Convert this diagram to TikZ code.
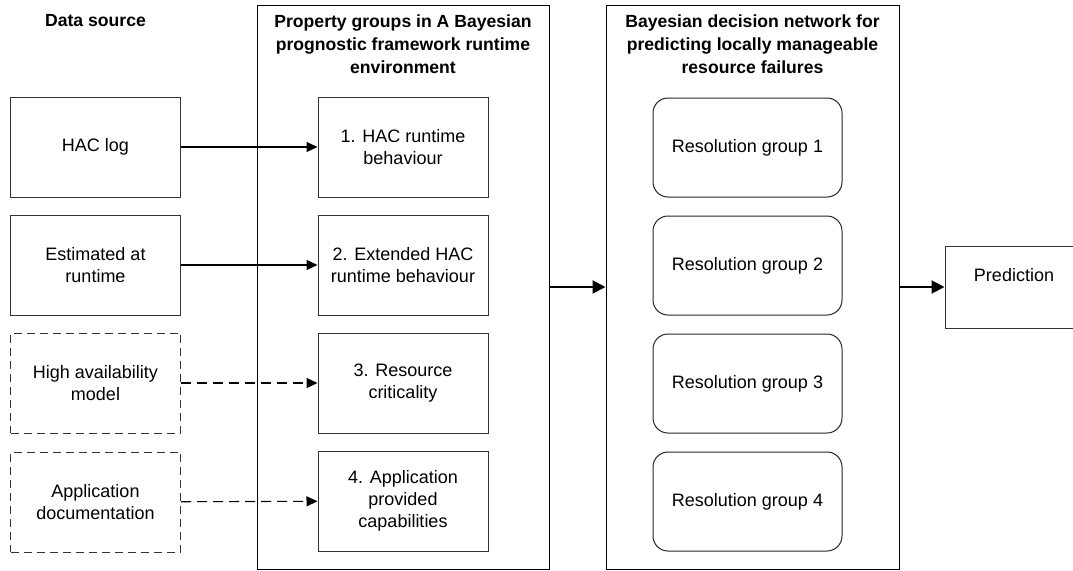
\documentclass[tikz,border=0pt]{standalone}
\usepackage{fontspec}
\setmainfont{Liberation Sans}
\usetikzlibrary{arrows.meta}

\tikzset{
  srcbox/.style={draw=black!80, line width=1pt, minimum width=170pt, minimum height=100pt, align=center, inner sep=2pt},
  guessbox/.style={srcbox, dash pattern=on 8pt off 5pt},
  panel/.style={draw=black, line width=1pt, minimum width=292pt, minimum height=564pt},
  rgroup/.style={draw=black!85, line width=1pt, rounded corners=15pt, minimum width=189pt, minimum height=99pt, align=center},
  heading/.style={font=\fontsize{17.6}{23}\selectfont\bfseries, align=center},
  feed/.style={-{Triangle[length=11pt,width=10pt]}, line width=1.1pt},
  dfeed/.style={feed, dash pattern=on 10pt off 6pt},
  flow/.style={-{Triangle[length=13pt,width=13pt]}, line width=2pt}
}

\begin{document}
\begin{tikzpicture}[x=1pt, y=-1pt, font=\fontsize{18}{22}\selectfont]
  \useasboundingbox (0,0) rectangle (1073,570);

  %Define nodes
  \node[panel]   (props) at (403,287) {};
  \node[panel, minimum width=293pt] (bdn) at (752.5,287) {};

  \node[heading] (src_t)   at (95.5,21)  {Data source};
  \node[heading] (props_t) at (403,44)   {Property groups in A Bayesian\\prognostic framework runtime\\environment};
  \node[heading] (bdn_t)   at (752.5,44) {Bayesian decision network for\\predicting locally manageable\\resource failures};

  \node[srcbox]   (hac)  at (95.5,147) {HAC log};
  \node[srcbox]   (est)  at (95.5,265) {Estimated at\\runtime};
  \node[guessbox] (ham)  at (95.5,383) {High availability\\model};
  \node[guessbox] (doc)  at (95.5,502) {Application\\documentation};

  \node[srcbox] (pg_1) at (403,147) {1. HAC runtime\\behaviour};
  \node[srcbox] (pg_2) at (403,265) {2. Extended HAC\\runtime behaviour};
  \node[srcbox] (pg_3) at (403,383) {3. Resource\\criticality};
  \node[srcbox] (pg_4) at (403,501) {4. Application\\provided\\capabilities};

  \node[rgroup] (rg_1) at (747.5,147.5) {Resolution group 1};
  \node[rgroup] (rg_2) at (747.5,265.5) {Resolution group 2};
  \node[rgroup] (rg_3) at (747.5,383.5) {Resolution group 3};
  \node[rgroup] (rg_4) at (747.5,501.5) {Resolution group 4};

  \node[srcbox, minimum width=138pt, minimum height=82pt, text depth=24pt] (pred) at (1014,287) {Prediction};

  % Connect the nodes
  \draw[feed]  (hac) -- (pg_1);
  \draw[feed]  (est) -- (pg_2);
  \draw[dfeed] (ham) -- (pg_3);
  \draw[dfeed] (doc) -- (pg_4);
  \draw[flow]  (props) -- (bdn);
  \draw[flow]  (bdn) -- (pred);
\end{tikzpicture}
\end{document}
